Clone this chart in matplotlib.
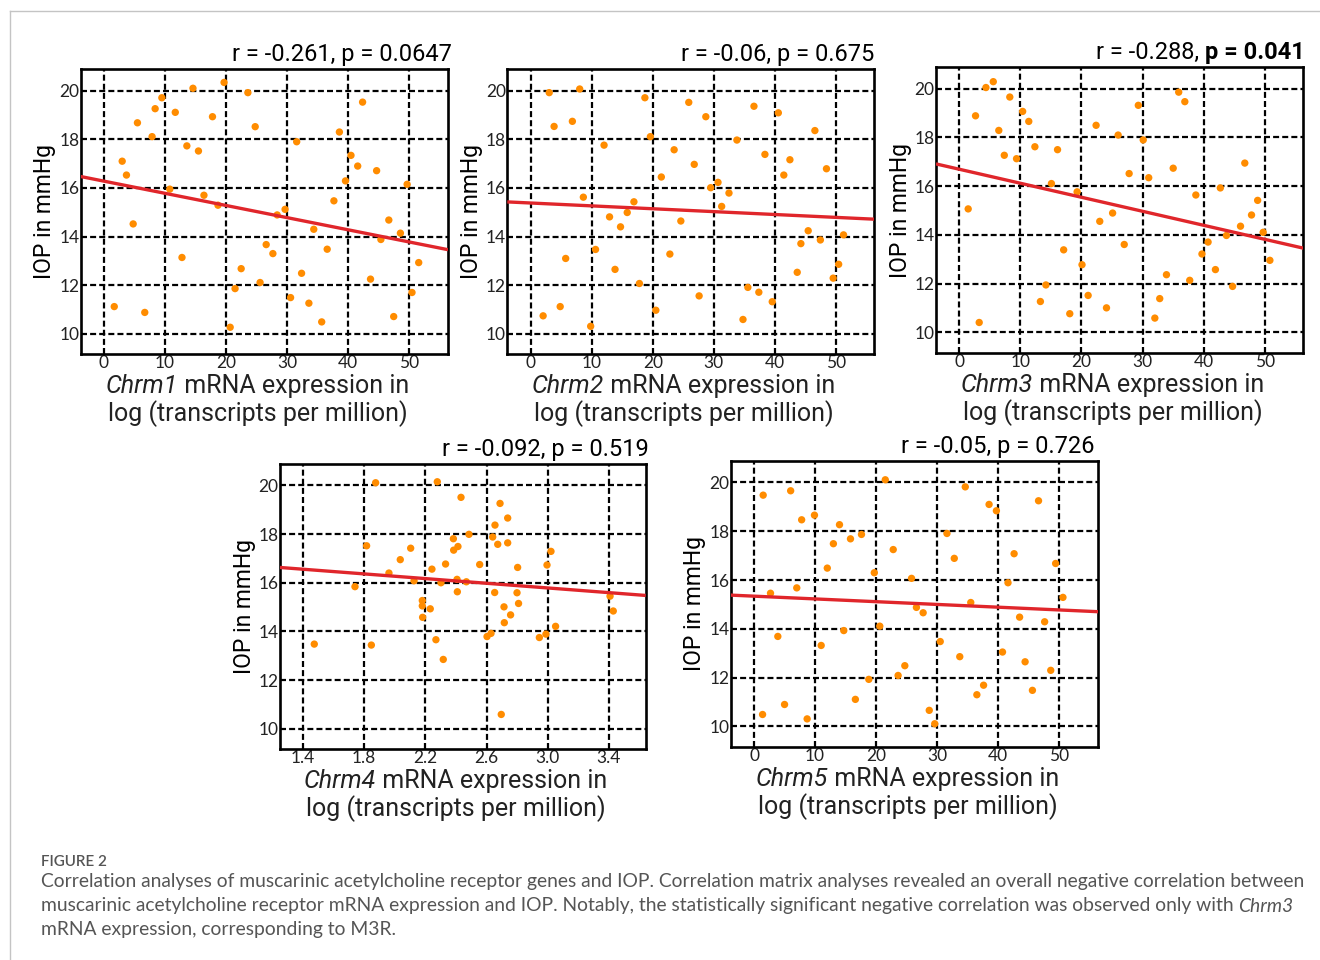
# coding=utf-8
import matplotlib
matplotlib.use('Agg')
import matplotlib.pyplot as plt
from matplotlib.lines import Line2D
import numpy as np

plt.rcParams['font.family'] = ['Roboto', 'DejaVu Sans']

# ---- data ---------------------------------------------------------------
chrm1_x = [1.7, 3.0, 3.7, 4.8, 5.5, 6.7, 7.9, 8.4, 9.5, 10.8, 11.7, 12.8, 13.6, 14.6, 15.5, 16.4,
           17.8, 18.7, 19.7, 20.7, 21.5, 22.5, 23.6, 24.8, 25.6, 26.6, 27.7, 28.4, 29.7, 30.6, 31.6,
           32.4, 33.6, 34.4, 35.7, 36.6, 37.7, 38.6, 39.6, 40.5, 41.6, 42.4, 43.7, 44.7, 45.4, 46.7,
           47.5, 48.6, 49.7, 50.5, 51.6]
chrm1_y = [11.12, 17.1, 16.53, 14.52, 18.68, 10.88, 18.11, 19.26, 19.71, 15.95, 19.11, 13.14, 17.73,
           20.1, 17.52, 15.70, 18.93, 15.29, 20.34, 10.27, 11.86, 12.68, 19.92, 18.52, 12.11, 13.67,
           13.30, 14.89, 15.12, 11.49, 17.9, 12.49, 11.26, 14.30, 10.49, 13.48, 15.47, 18.30, 16.29,
           17.34, 16.90, 19.53, 12.25, 16.71, 13.88, 14.68, 10.71, 14.14, 16.15, 11.70, 12.93]

chrm2_x = [3.0, 3.8, 2.0, 4.8, 5.7, 6.8, 8.0, 8.6, 9.8, 10.6, 12.0, 12.9, 13.8, 14.7, 15.8, 16.9,
           17.8, 18.7, 19.6, 20.5, 21.4, 22.8, 23.5, 24.6, 25.9, 26.8, 27.6, 28.7, 29.5, 30.7, 31.3,
           32.5, 33.8, 34.8, 35.6, 36.6, 37.4, 38.4, 39.6, 40.6, 41.5, 42.5, 43.7, 44.3, 45.5, 46.6,
           47.5, 48.5, 49.6, 50.5, 51.3]
chrm2_y = [19.92, 18.53, 10.74, 11.12, 13.10, 18.74, 20.07, 15.62, 10.31, 13.47, 17.76, 14.81, 12.65,
           14.40, 14.99, 15.43, 12.07, 19.71, 18.11, 10.97, 16.45, 13.28, 17.57, 14.64, 19.52, 16.97,
           11.56, 18.93, 16.01, 16.23, 15.24, 15.79, 17.97, 10.59, 11.91, 19.36, 11.71, 17.38, 11.32,
           19.09, 16.53, 17.16, 12.53, 13.71, 14.24, 18.36, 13.86, 16.79, 12.29, 12.86, 14.07]

chrm3_x = [1.5, 2.7, 3.3, 4.4, 5.6, 6.5, 7.4, 8.3, 9.4, 10.4, 11.4, 12.4, 13.3, 14.2, 15.1, 16.1,
           17.1, 18.1, 19.3, 20.1, 21.1, 22.4, 23.0, 24.1, 25.1, 26.0, 27.0, 27.8, 29.3, 30.1, 31.0,
           32.0, 32.8, 33.9, 35.0, 35.9, 36.9, 37.7, 38.7, 39.7, 40.7, 41.9, 42.7, 43.7, 44.7, 46.0,
           46.7, 47.8, 48.8, 49.7, 50.8]
chrm3_y = [15.07, 18.89, 10.41, 20.05, 20.29, 18.29, 17.27, 19.66, 17.13, 19.07, 18.66, 17.62, 11.27,
           11.95, 16.11, 17.50, 13.39, 10.77, 15.77, 12.78, 11.52, 18.50, 14.56, 11.01, 14.90, 18.10,
           13.61, 16.52, 19.32, 17.90, 16.35, 10.59, 11.39, 12.37, 16.74, 19.86, 19.47, 12.14, 15.64,
           13.22, 13.71, 12.58, 15.93, 13.98, 11.89, 14.36, 16.95, 14.82, 15.42, 14.11, 12.96]

chrm4_x = [1.474, 1.740, 1.816, 1.847, 1.875, 1.962, 2.036, 2.104, 2.126, 2.180, 2.180, 2.182, 2.232,
           2.243, 2.269, 2.278, 2.302, 2.317, 2.332, 2.383, 2.385, 2.413, 2.407, 2.409, 2.433, 2.468,
           2.485, 2.555, 2.603, 2.629, 2.640, 2.655, 2.653, 2.673, 2.688, 2.696, 2.714, 2.716, 2.738,
           2.738, 2.757, 2.799, 2.803, 2.809, 2.945, 2.988, 2.995, 3.021, 3.051, 3.407, 3.428]
chrm4_y = [13.48, 15.84, 17.52, 13.44, 20.11, 16.40, 16.95, 17.42, 16.08, 15.27, 15.05, 14.58, 14.93,
           16.56, 13.66, 20.15, 16.00, 12.85, 16.77, 17.81, 17.34, 17.49, 16.14, 15.63, 19.51, 16.04,
           17.99, 16.75, 13.79, 13.92, 17.88, 18.37, 15.60, 17.58, 19.26, 10.59, 15.01, 14.36, 18.66,
           17.64, 14.68, 15.59, 16.63, 15.15, 13.75, 13.89, 16.73, 17.29, 14.21, 15.45, 14.84]

chrm5_x = [1.5, 1.4, 2.7, 3.9, 5.0, 6.0, 7.0, 7.8, 8.7, 9.9, 11.0, 12.0, 13.0, 14.0, 14.7, 15.8,
           16.6, 17.6, 18.8, 19.7, 20.6, 21.5, 22.8, 23.6, 24.7, 25.8, 26.6, 27.7, 28.7, 29.6, 30.5,
           31.6, 32.8, 33.7, 34.6, 35.5, 36.5, 37.6, 38.5, 39.7, 40.7, 41.6, 42.6, 43.5, 44.4, 45.6,
           46.6, 47.6, 48.6, 49.4, 50.6]
chrm5_y = [19.48, 10.49, 15.46, 13.69, 10.90, 19.66, 15.68, 18.47, 10.31, 18.66, 13.32, 16.49, 17.49,
           18.27, 13.93, 17.69, 11.11, 17.87, 11.93, 16.30, 14.11, 20.11, 17.25, 12.09, 12.49, 16.07,
           14.88, 14.66, 10.66, 10.11, 13.48, 17.91, 16.89, 12.86, 19.82, 15.08, 11.30, 11.69, 19.10,
           18.84, 13.05, 15.89, 17.08, 14.48, 12.65, 11.48, 19.25, 14.29, 12.30, 16.68, 15.29]

genes = ['Chrm1', 'Chrm2', 'Chrm3', 'Chrm4', 'Chrm5']
xs = [chrm1_x, chrm2_x, chrm3_x, chrm4_x, chrm5_x]
ys = [chrm1_y, chrm2_y, chrm3_y, chrm4_y, chrm5_y]
r_values = ['-0.261', '-0.06', '-0.288', '-0.092', '-0.05']
p_values = ['0.0647', '0.675', '0.041', '0.519', '0.726']
fit_intercept = [16.28, 15.38, 16.70, 17.23, 15.34]
fit_slope = [-0.050, -0.0118, -0.0576, -0.481, -0.0113]

x_ticks_tpm = [0, 10, 20, 30, 40, 50]
x_ticks_chrm4 = [1.4, 1.8, 2.2, 2.6, 3.0, 3.4]
y_ticks = [10, 12, 14, 16, 18, 20]

# ---- layout (pixel boxes: left, top, right, bottom) -----------------------
W, H = 1320, 960
boxes = [(80.7, 69.3, 448, 354), (507.3, 69.3, 874, 354), (936, 67.3, 1303.3, 352.7),
         (280, 464, 645.7, 749), (730.7, 461, 1098.3, 746.7)]
xlims = [(-3.8, 56.4), (-3.88, 56.3), (-3.76, 56.26), (1.25, 3.64), (-3.82, 56.39)]
ylim = (9.17, 20.88)
title_dx = [4, 0, 1, 3, -4]
label_dx = -7

fig = plt.figure(figsize=(W / 100, H / 100), dpi=100)

for i, gene in enumerate(genes):
    l, t, r, b = boxes[i]
    ax = fig.add_axes([l / W, 1 - b / H, (r - l) / W, (b - t) / H])
    ax.set_xlim(*xlims[i])
    ax.set_ylim(*ylim)
    ticks = x_ticks_chrm4 if gene == 'Chrm4' else x_ticks_tpm
    ax.set_xticks(ticks)
    ax.set_yticks(y_ticks)
    if gene == 'Chrm4':
        ax.set_xticklabels(['%.1f' % v for v in ticks])
    ax.grid(True, color='black', linewidth=1.6, linestyle=(0, (2.7, 1.4)), zorder=1)
    ax.set_axisbelow(True)
    for s in ax.spines.values():
        s.set_linewidth(1.9)
    ax.tick_params(length=0, pad=1, labelsize=12.5, labelcolor='#222222')
    for lab in ax.get_xticklabels() + ax.get_yticklabels():
        lab.set_fontfamily('Lato')

    ax.scatter(xs[i], ys[i], s=28, color='#ff8c00', edgecolors='none', zorder=3)
    xl = np.array(xlims[i])
    ax.plot(xl, fit_intercept[i] + fit_slope[i] * xl, color='#e0262b', linewidth=2.4,
            zorder=4, solid_capstyle='butt')

    ax.set_ylabel('IOP in mmHg', fontsize=16.5, labelpad=2)

    # x label: italic gene name + plain text, two centred lines
    rest = ax.annotate(' mRNA expression in', xy=(0.5, 0), xycoords='axes fraction',
                       xytext=(0, -32), textcoords='offset pixels', ha='left', va='center',
                       fontsize=18, color='#222222')
    gene_txt = ax.annotate(gene, xy=(0, 0.5), xycoords=rest, ha='right', va='center',
                           fontsize=18, style='italic', color='#222222')
    fig.canvas.draw()
    w_gene = gene_txt.get_window_extent().width
    w_rest = rest.get_window_extent().width
    rest.set_position((label_dx + w_gene - (w_gene + w_rest) / 2, -32))
    ax.annotate('log (transcripts per million)', xy=(0.5, 0), xycoords='axes fraction',
                xytext=(label_dx, -60), textcoords='offset pixels', ha='center', va='center',
                fontsize=18, color='#222222')

    if gene == 'Chrm3':
        bold = ax.annotate('p = %s' % p_values[i], xy=(1, 1), xycoords='axes fraction',
                           xytext=(title_dx[i], 3), textcoords='offset pixels', ha='right',
                           va='bottom', fontsize=17, fontweight='bold')
        ax.annotate('r = %s, ' % r_values[i], xy=(0, 0), xycoords=bold,
                    ha='right', va='bottom', fontsize=17)
    else:
        ax.annotate('r = %s, p = %s' % (r_values[i], p_values[i]), xy=(1, 1),
                    xycoords='axes fraction', xytext=(title_dx[i], 3), textcoords='offset pixels',
                    ha='right', va='bottom', fontsize=17)

# frame of the article figure
fig.add_artist(Line2D([10 / W, 1], [1 - 11 / H, 1 - 11 / H], transform=fig.transFigure,
                      color='#c4c4c4', linewidth=1))
fig.add_artist(Line2D([10 / W, 10 / W], [0, 1 - 11 / H], transform=fig.transFigure,
                      color='#c4c4c4', linewidth=1))

# caption
cap_color = '#555555'
cap_size = 13.85
fig.text(41 / W, 1 - 862 / H, 'FIGURE 2', fontsize=11, fontweight='semibold',
         family='Lato', color=cap_color, va='center')
fig.text(41 / W, 1 - 882 / H,
         'Correlation analyses of muscarinic acetylcholine receptor genes and IOP. Correlation matrix '
         'analyses revealed an overall negative correlation between',
         fontsize=cap_size, family='Lato', color=cap_color, va='center')
line2 = fig.text(41 / W, 1 - 906 / H,
                 'muscarinic acetylcholine receptor mRNA expression and IOP. Notably, the statistically '
                 'significant negative correlation was observed only with ',
                 fontsize=cap_size, family='Lato', color=cap_color, va='center')
fig.add_artist(plt.Annotation('Chrm3', xy=(1, 0.5), xycoords=line2, ha='left', va='center',
                              fontsize=cap_size, family='Lato', style='italic', color=cap_color))
fig.text(41 / W, 1 - 930 / H, 'mRNA expression, corresponding to M3R.', fontsize=cap_size,
         family='Lato', color=cap_color, va='center')

fig.savefig('out.png', dpi=100)
